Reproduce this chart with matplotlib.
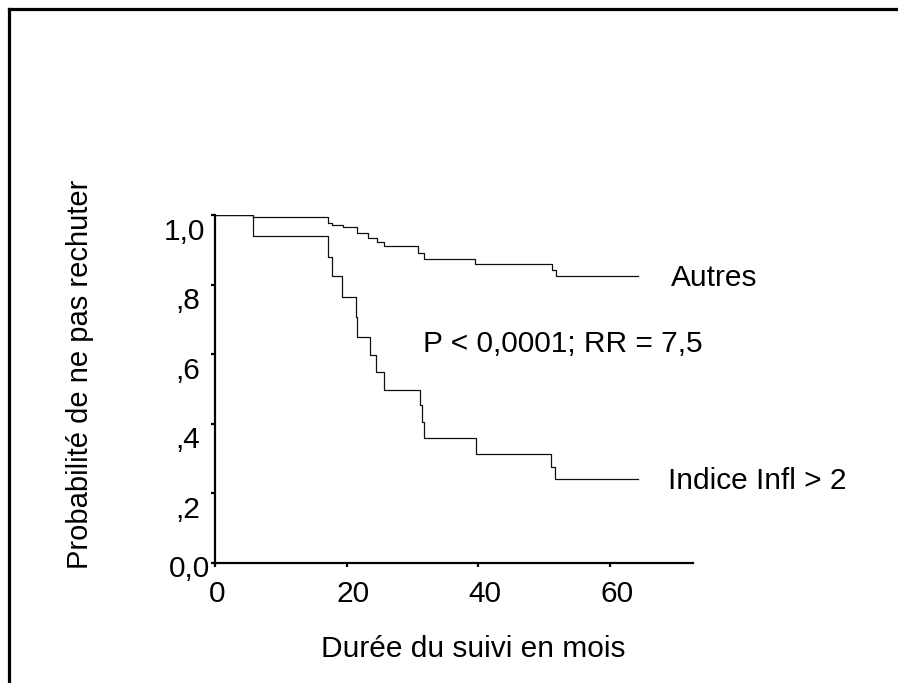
#!/usr/bin/env python3
"""Kaplan-Meier style curves: probabilité de ne pas rechuter."""

import matplotlib
matplotlib.use('Agg')
import matplotlib.pyplot as plt
from matplotlib.lines import Line2D
from matplotlib.transforms import ScaledTranslation

# Survival steps (months, probability)
autres_t = [0, 5.8, 17.2, 17.7, 19.5, 21.5, 23.3, 24.6, 25.6, 30.9, 31.7, 39.5, 51.2, 51.8, 64.3]
autres_s = [1.0, 0.993, 0.976, 0.971, 0.966, 0.947, 0.933, 0.923, 0.911, 0.890, 0.874, 0.859, 0.842, 0.826, 0.826]

indice_t = [0, 5.8, 17.2, 17.7, 19.3, 21.4, 21.6, 23.6, 24.5, 25.6, 31.2, 31.4, 31.7, 39.6, 51.0, 51.7, 64.3]
indice_s = [1.0, 0.940, 0.880, 0.826, 0.765, 0.708, 0.650, 0.598, 0.550, 0.497, 0.454, 0.406, 0.358, 0.313, 0.277, 0.240, 0.240]

x_ticks = [0, 20, 40, 60]
x_labels = ['0', '20', '40', '60']
y_ticks = [0.0, 0.2, 0.4, 0.6, 0.8, 1.0]
y_labels = ['0,0', ',2', ',4', ',6', ',8', '1,0']

plt.rcParams.update({
    'font.family': ['Liberation Sans', 'DejaVu Sans'],
    'font.size': 21.5,
})

W, H = 898, 683
fig = plt.figure(figsize=(W / 100, H / 100), dpi=100)
fig.patch.set_facecolor('white')

# axes box in pixels: x0=215, x_end=693, y(1.0)=215, y(0)=563
ax = fig.add_axes([215 / W, 1 - 563 / H, (693 - 215) / W, (563 - 215) / H])
ax.set_xlim(0, 72.6)
ax.set_ylim(0, 1.0)

ax.plot(autres_t, autres_s, drawstyle='steps-post', color='#111111', lw=0.9)
ax.plot(indice_t, indice_s, drawstyle='steps-post', color='#111111', lw=0.9)

for side in ['top', 'right']:
    ax.spines[side].set_visible(False)
for side in ['left', 'bottom']:
    ax.spines[side].set_linewidth(1.6)

ax.set_xticks(x_ticks)
ax.set_xticklabels(x_labels)
ax.set_yticks(y_ticks)
ax.set_yticklabels(y_labels)
ax.tick_params(axis='both', direction='out', length=3, width=1.6, color='black')
ax.tick_params(axis='x', pad=9.5)
ax.tick_params(axis='y', pad=7.5)

# nudge tick labels the way the original software placed them
px = 1 / 100
for lab, dx in zip(ax.get_xticklabels(), [2.5, 6.7, 6.7, 6.7]):
    lab.set_transform(lab.get_transform() + ScaledTranslation(dx * px, 0, fig.dpi_scale_trans))
y_dx = [9.3, 0, 0, 0, 0, 5]
y_dy = [-13.7, -24.5, -24.5, -24.5, -24.5, -25]
for lab, dx, dy in zip(ax.get_yticklabels(), y_dx, y_dy):
    lab.set_va('baseline')
    lab.set_transform(lab.get_transform() + ScaledTranslation(dx * px, dy * px, fig.dpi_scale_trans))

ax.text(69.25, 0.797, 'Autres', ha='left', va='baseline', clip_on=False)
ax.text(31.6, 0.607, 'P < 0,0001; RR = 7,5', ha='left', va='baseline', clip_on=False)
ax.text(68.8, 0.213, 'Indice Infl > 2', ha='left', va='baseline', clip_on=False)

fig.text(80 / W, 1 - 374 / H, 'Probabilité de ne pas rechuter', rotation=90,
         ha='center', va='center', fontsize=21)
fig.text(473 / W, 1 - 656.7 / H, 'Durée du suivi en mois', ha='center', va='baseline')

# frame around the figure (left and top edges only)
bx, by = 8.5 / W, 1 - 9 / H
fig.add_artist(Line2D([bx, bx], [0, by], transform=fig.transFigure, color='black', lw=2.3))
fig.add_artist(Line2D([bx, 1], [by, by], transform=fig.transFigure, color='black', lw=2.3))

plt.savefig('out.png', dpi=100)
plt.close()
